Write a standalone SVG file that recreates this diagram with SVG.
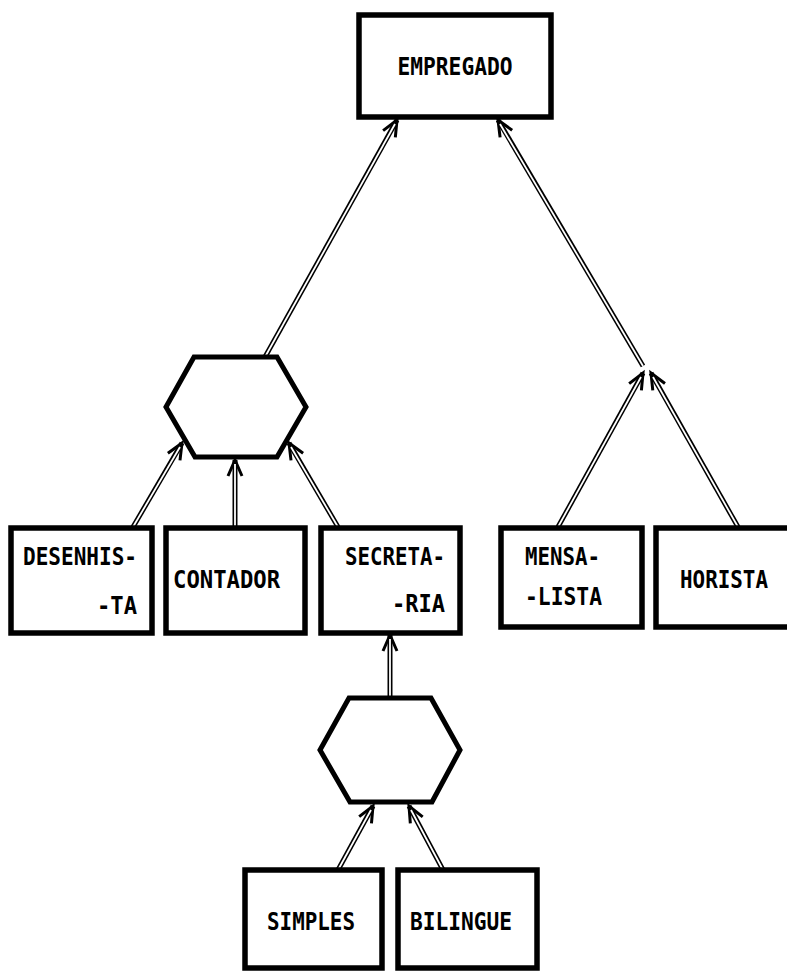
<svg xmlns="http://www.w3.org/2000/svg" width="787" height="972" viewBox="0 0 787 972">
<style>
.box{fill:#fff;stroke:#000;stroke-width:5.5}
.hex{fill:#fff;stroke:#000;stroke-width:5;stroke-linejoin:miter}
.lbl{font-family:"DejaVu Sans Mono","Liberation Mono",monospace;font-weight:bold;font-size:24px;fill:#000}
.outer{fill:none;stroke:#000;stroke-width:5}
.inner{fill:none;stroke:#fff;stroke-width:1.8}
</style>
<defs>
<marker id="arr" markerUnits="userSpaceOnUse" viewBox="-18 -9 20 18" refX="0" refY="0" markerWidth="20" markerHeight="18" orient="auto" overflow="visible">
<path d="M-16,-7 L0,0 L-16,7" fill="none" stroke="#000" stroke-width="3"/>
</marker>
</defs>
<g id="connectors">
<path class="outer" d="M265,357 L397,120" marker-end="url(#arr)"/>
<path class="inner" d="M265,357 L395,124"/>
<path class="outer" d="M643,366 L498,120" marker-end="url(#arr)"/>
<path class="inner" d="M643,366 L500,124"/>
<path class="outer" d="M558,527 L643,373" marker-end="url(#arr)"/>
<path class="inner" d="M558,527 L641,377"/>
<path class="outer" d="M738,527 L651,373" marker-end="url(#arr)"/>
<path class="inner" d="M738,527 L653,377"/>
<path class="outer" d="M133,527 L182,443" marker-end="url(#arr)"/>
<path class="inner" d="M133,527 L180,447"/>
<path class="outer" d="M235,527 L235,460" marker-end="url(#arr)"/>
<path class="inner" d="M235,527 L235,464"/>
<path class="outer" d="M338,527 L289,443" marker-end="url(#arr)"/>
<path class="inner" d="M338,527 L291,447"/>
<path class="outer" d="M390,698 L390,635" marker-end="url(#arr)"/>
<path class="inner" d="M390,698 L390,639"/>
<path class="outer" d="M338,870 L373,806" marker-end="url(#arr)"/>
<path class="inner" d="M338,870 L371,810"/>
<path class="outer" d="M443,870 L409,806" marker-end="url(#arr)"/>
<path class="inner" d="M443,870 L411,810"/>
</g>
<g id="empregado">
<rect class="box" x="359" y="15" width="192" height="102"/>
<text class="lbl" x="455" y="75" text-anchor="middle" textLength="115" lengthAdjust="spacingAndGlyphs">EMPREGADO</text>
</g>
<g id="hex1">
<polygon class="hex" points="194,357 277,357 306,407 277,457 195,457 166,407"/>
</g>
<g id="desenhista">
<rect class="box" x="11" y="528" width="141" height="105"/>
<text class="lbl" x="23" y="565" textLength="114" lengthAdjust="spacingAndGlyphs">DESENHIS-</text>
<text class="lbl" x="137" y="614" text-anchor="end" textLength="40" lengthAdjust="spacingAndGlyphs">-TA</text>
</g>
<g id="contador">
<rect class="box" x="166" y="528" width="139" height="105"/>
<text class="lbl" x="173" y="588" textLength="107" lengthAdjust="spacingAndGlyphs">CONTADOR</text>
</g>
<g id="secretaria">
<rect class="box" x="321" y="528" width="139" height="105"/>
<text class="lbl" x="345" y="565" textLength="100" lengthAdjust="spacingAndGlyphs">SECRETA-</text>
<text class="lbl" x="445" y="612" text-anchor="end" textLength="53" lengthAdjust="spacingAndGlyphs">-RIA</text>
</g>
<g id="mensalista">
<rect class="box" x="501" y="528" width="141" height="99"/>
<text class="lbl" x="525" y="565" textLength="75" lengthAdjust="spacingAndGlyphs">MENSA-</text>
<text class="lbl" x="525" y="605" textLength="77" lengthAdjust="spacingAndGlyphs">-LISTA</text>
</g>
<g id="horista">
<rect class="box" x="656" y="528" width="134" height="99"/>
<text class="lbl" x="680" y="588" textLength="88" lengthAdjust="spacingAndGlyphs">HORISTA</text>
</g>
<g id="hex2">
<polygon class="hex" points="349,698 431,698 460,750 432,802 350,802 320,750"/>
</g>
<g id="simples">
<rect class="box" x="245" y="870" width="137" height="98"/>
<text class="lbl" x="267" y="930" textLength="88" lengthAdjust="spacingAndGlyphs">SIMPLES</text>
</g>
<g id="bilingue">
<rect class="box" x="398" y="870" width="139" height="98"/>
<text class="lbl" x="410" y="930" textLength="102" lengthAdjust="spacingAndGlyphs">BILINGUE</text>
</g>
</svg>
